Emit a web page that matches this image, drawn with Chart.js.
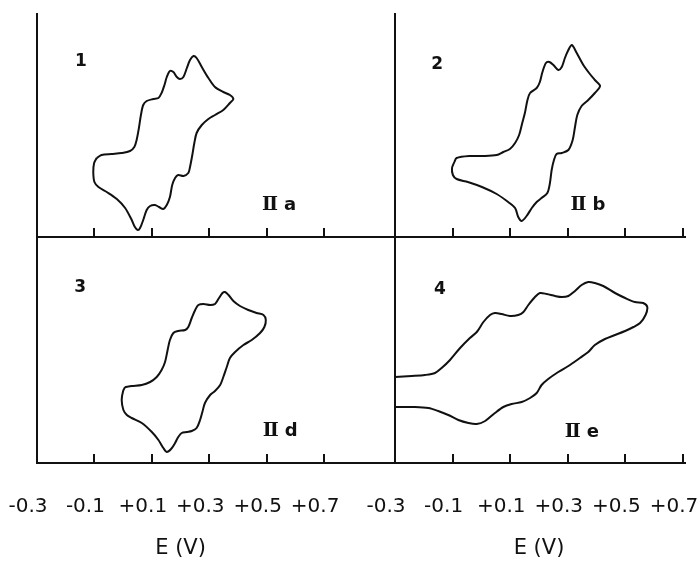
<!DOCTYPE html>
<html>
<head>
<meta charset="utf-8">
<title>Cyclic voltammograms IIa, IIb, IId, IIe</title>
<script src="https://cdn.jsdelivr.net/npm/chart.js@4.4.1/dist/chart.umd.min.js"></script>
<style>
  html, body { margin: 0; padding: 0; background: #fff; }
  #figure { position: relative; width: 700px; height: 572px; overflow: hidden; background: #fff; }
  #figure canvas { position: absolute; }
</style>
</head>
<body>
<div id="figure">
  <canvas id="cv-1" width="400" height="240" style="left:0;top:0"></canvas>
  <canvas id="cv-2" width="310" height="240" style="left:390px;top:0"></canvas>
  <canvas id="cv-3" width="400" height="340" style="left:0;top:232px"></canvas>
  <canvas id="cv-4" width="350" height="340" style="left:350px;top:232px"></canvas>
</div>
<script>
// potential axis (V) - same ticks on both columns
const xTickValues = [-0.3, -0.1, 0.1, 0.3, 0.5, 0.7];
const xTickLabels = ['-0.3', '-0.1', '+0.1', '+0.3', '+0.5', '+0.7'];

// panel 1, compound IIa (closed loop, arbitrary current units)
const iiaVolts = [-0.092, -0.075, -0.040, -0.005, 0.024, 0.039, 0.047, 0.055, 0.062, 0.070, 0.082, 0.105, 0.123, 0.134, 0.144, 0.152, 0.163, 0.175, 0.187, 0.198, 0.210, 0.222, 0.233, 0.245, 0.256, 0.274, 0.297, 0.320, 0.349, 0.372, 0.384, 0.372, 0.349, 0.320, 0.297, 0.274, 0.256, 0.248, 0.241, 0.233, 0.227, 0.210, 0.192, 0.181, 0.171, 0.163, 0.152, 0.140, 0.125, 0.111, 0.094, 0.082, 0.070, 0.059, 0.051, 0.041, 0.030, 0.007, -0.022, -0.057, -0.086, -0.100, -0.104, -0.101, -0.092];
const iiaCurrent = [79, 82, 83, 84, 86, 90, 97, 109, 122, 132, 136, 138, 139, 144, 152, 160, 166, 165, 160, 158, 160, 169, 177, 181, 179, 170, 159, 150, 145, 142, 138, 134, 127, 122, 118, 112, 104, 94, 82, 70, 64, 61, 62, 59, 52, 40, 32, 28, 30, 32, 31, 27, 17, 9, 7, 10, 17, 29, 38, 45, 50, 55, 65, 74, 79];

// panel 2, compound IIb
const iibVolts = [-0.094, -0.086, -0.040, 0.006, 0.053, 0.076, 0.099, 0.117, 0.131, 0.141, 0.151, 0.160, 0.169, 0.192, 0.203, 0.212, 0.224, 0.236, 0.250, 0.267, 0.279, 0.290, 0.302, 0.314, 0.331, 0.354, 0.374, 0.394, 0.412, 0.394, 0.371, 0.348, 0.333, 0.325, 0.317, 0.302, 0.279, 0.261, 0.252, 0.244, 0.238, 0.229, 0.209, 0.192, 0.175, 0.157, 0.140, 0.128, 0.117, 0.093, 0.053, 0.002, -0.047, -0.086, -0.099, -0.102, -0.094];
const iibCurrent = [75, 79, 81, 81, 82, 85, 88, 94, 102, 113, 124, 137, 144, 149, 155, 165, 174, 175, 172, 167, 170, 179, 187, 192, 184, 172, 164, 157, 151, 144, 137, 131, 122, 110, 97, 87, 84, 83, 77, 67, 54, 44, 39, 35, 29, 21, 16, 20, 29, 35, 43, 50, 55, 58, 62, 69, 75];

// panel 3, compound IId
const iidVolts = [0.007, 0.030, 0.065, 0.094, 0.117, 0.134, 0.146, 0.155, 0.163, 0.175, 0.192, 0.216, 0.227, 0.239, 0.251, 0.262, 0.280, 0.303, 0.320, 0.334, 0.346, 0.355, 0.367, 0.384, 0.407, 0.436, 0.465, 0.489, 0.497, 0.492, 0.477, 0.448, 0.419, 0.390, 0.372, 0.361, 0.349, 0.338, 0.320, 0.303, 0.285, 0.276, 0.268, 0.256, 0.239, 0.222, 0.204, 0.192, 0.181, 0.167, 0.152, 0.140, 0.123, 0.100, 0.065, 0.030, 0.013, 0.001, -0.005, 0.000, 0.007];
const iidCurrent = [76, 77, 78, 81, 86, 93, 101, 113, 123, 130, 132, 133, 136, 145, 153, 158, 159, 158, 159, 165, 170, 171, 168, 162, 157, 153, 150, 148, 143, 136, 130, 123, 118, 111, 105, 96, 86, 78, 72, 68, 60, 51, 43, 35, 32, 31, 30, 26, 20, 14, 11, 15, 23, 31, 40, 45, 48, 53, 63, 72, 76];

// panel 4, compound IIe (open: both branches start at -0.3 V)
const iieVolts = [-0.300, -0.242, -0.196, -0.161, -0.138, -0.109, -0.074, -0.040, -0.016, 0.007, 0.030, 0.047, 0.070, 0.099, 0.128, 0.146, 0.163, 0.186, 0.203, 0.227, 0.256, 0.279, 0.302, 0.325, 0.348, 0.371, 0.394, 0.423, 0.464, 0.499, 0.533, 0.562, 0.576, 0.570, 0.551, 0.528, 0.499, 0.464, 0.429, 0.394, 0.371, 0.342, 0.302, 0.267, 0.232, 0.209, 0.192, 0.169, 0.140, 0.105, 0.076, 0.047, 0.013, -0.016, -0.045, -0.080, -0.115, -0.150, -0.184, -0.231, -0.300];
const iieCurrent = [86, 87, 88, 90, 95, 103, 115, 125, 131, 141, 148, 150, 149, 147, 148, 151, 158, 166, 170, 169, 167, 166, 167, 172, 178, 181, 180, 177, 170, 165, 161, 160, 156, 148, 140, 136, 132, 128, 124, 118, 111, 105, 97, 91, 84, 78, 70, 65, 61, 59, 56, 50, 42, 39, 40, 43, 48, 52, 55, 56, 56];

const INK = '#111';
const X_MIN = -0.3;

// draws panel number, compound tag and the E (V) caption
const panelText = {
  id: 'panelText',
  afterDraw(chart, args, opts) {
    const { ctx, scales: { x, y } } = chart;
    ctx.save();
    ctx.fillStyle = INK;
    ctx.textBaseline = 'middle';

    ctx.textAlign = 'center';
    ctx.font = 'bold 17px "DejaVu Sans"';
    ctx.fillText(opts.number.text, x.getPixelForValue(opts.number.v), y.getPixelForValue(opts.number.i));

    // roman numeral + letter, centred as one label
    const tag = opts.tag;
    ctx.textAlign = 'left';
    ctx.font = 'bold 19px "DejaVu Serif"';
    const wRoman = ctx.measureText(tag.roman).width;
    ctx.font = 'bold 18px "DejaVu Sans"';
    const wLetter = ctx.measureText(tag.letter).width;
    const gap = 6;
    const left = x.getPixelForValue(tag.v) - (wRoman + gap + wLetter) / 2;
    const ty = y.getPixelForValue(tag.i);
    ctx.font = 'bold 19px "DejaVu Serif"';
    ctx.fillText(tag.roman, left, ty);
    ctx.font = 'bold 18px "DejaVu Sans"';
    ctx.fillText(tag.letter, left + wRoman + gap, ty);

    if (opts.caption) {
      ctx.textAlign = 'center';
      ctx.font = '21px "DejaVu Sans"';
      ctx.fillText(opts.caption.text, x.getPixelForValue(opts.caption.at), x.top + opts.caption.offset);
    }
    ctx.restore();
  }
};

function makePanel(id, cfg) {
  const points = cfg.volts.map((v, k) => ({ x: v, y: cfg.current[k] }));

  return new Chart(document.getElementById(id), {
    type: 'scatter',
    data: {
      datasets: [{
        data: points,
        showLine: true,
        borderColor: INK,
        borderWidth: 2,
        pointRadius: 0,
        tension: 0.3,
        fill: false
      }]
    },
    options: {
      responsive: false,
      animation: false,
      events: [],
      layout: { padding: cfg.padding },
      plugins: {
        legend: { display: false },
        tooltip: { enabled: false },
        panelText: { number: cfg.number, tag: cfg.tag, caption: cfg.caption }
      },
      scales: {
        x: {
          type: 'linear',
          bounds: 'data',
          min: X_MIN,
          max: cfg.xMax,
          afterBuildTicks: s => { s.ticks = xTickValues.map(value => ({ value })); },
          afterFit: s => {
            s.height = cfg.caption ? 109 : 0;
            // labels may hang over the panel edges, don't let them shrink the plot
            s.paddingLeft = 0;
            s.paddingRight = 0;
          },
          border: { display: true, color: INK, width: 2 },
          grid: { display: true, drawOnChartArea: false, drawTicks: true, tickLength: -9, color: INK, lineWidth: 2 },
          ticks: {
            display: !!cfg.caption,
            autoSkip: false,
            maxRotation: 0,
            padding: 41,
            labelOffset: -9,
            color: INK,
            font: { family: 'DejaVu Sans', size: 20 },
            callback: (value, index) => xTickLabels[index]
          }
        },
        y: {
          type: 'linear',
          min: 0,
          max: cfg.yMax,
          afterFit: s => { s.width = 0; },
          border: { display: true, color: INK, width: 2 },
          grid: { display: false },
          ticks: { display: false }
        }
      }
    },
    plugins: [panelText]
  });
}

const caption = { text: 'E (V)', at: 0.2, offset: 86 };

makePanel('cv-1', {
  volts: iiaVolts, current: iiaCurrent,
  xMax: 0.947, yMax: 223,
  padding: { left: 37, top: 14, right: 5, bottom: 3 },
  number: { text: '1', v: -0.147, i: 175 },
  tag: { roman: 'Ⅱ', letter: 'a', v: 0.543, i: 32 }
});

makePanel('cv-2', {
  volts: iibVolts, current: iibCurrent,
  xMax: 0.707, yMax: 223,
  padding: { left: 5, top: 14, right: 15, bottom: 3 },
  number: { text: '2', v: -0.154, i: 172 },
  tag: { roman: 'Ⅱ', letter: 'b', v: 0.370, i: 32 }
});

makePanel('cv-3', {
  volts: iidVolts, current: iidCurrent,
  xMax: 0.947, yMax: 226,
  padding: { left: 37, top: 5, right: 5, bottom: 0 },
  number: { text: '3', v: -0.150, i: 175 },
  tag: { roman: 'Ⅱ', letter: 'd', v: 0.547, i: 32 },
  caption
});

makePanel('cv-4', {
  volts: iieVolts, current: iieCurrent,
  xMax: 0.707, yMax: 226,
  padding: { left: 45, top: 5, right: 15, bottom: 0 },
  number: { text: '4', v: -0.144, i: 173 },
  tag: { roman: 'Ⅱ', letter: 'e', v: 0.349, i: 31 },
  caption
});
</script>
</body>
</html>
